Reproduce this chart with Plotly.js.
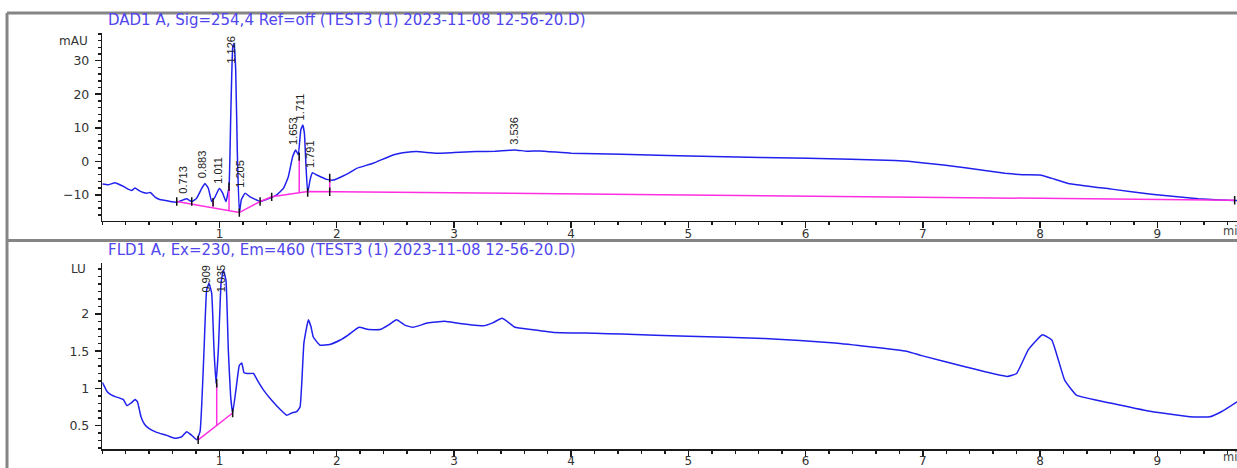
<!DOCTYPE html>
<html>
<head>
<meta charset="utf-8">
<script src="https://cdn.plot.ly/plotly-3.0.1.min.js"></script>
<style>
  html, body { margin: 0; padding: 0; background: #fff; }
  #chart { width: 1237px; height: 468px; }
</style>
</head>
<body>
<div id="chart"></div>
<script>
// ---------- DAD1 A (254 nm) trace ----------
const dadTime = [0.00,0.05,0.11,0.15,0.18,0.22,0.25,0.28,0.31,0.35,0.38,0.41,0.45,0.49,0.53,0.58,0.635,0.69,0.72,0.763,0.805,0.848,0.876,0.905,0.933,0.962,0.998,1.027,1.055,1.081,1.095,1.113,1.124,1.138,1.152,1.169,1.186,1.218,1.26,1.30,1.346,1.43,1.488,1.545,1.587,1.624,1.65,1.672,1.693,1.71,1.724,1.738,1.752,1.772,1.792,1.83,1.915,1.97,2.04,2.11,2.17,2.31,2.48,2.60,2.68,2.85,3.00,3.19,3.35,3.52,3.62,3.73,4.00,4.43,5.21,6.02,6.76,6.99,7.36,7.70,7.85,8.00,8.10,8.24,8.61,8.95,9.35,9.65,9.68];
const dadSignal = [-6.8,-7.0,-6.4,-7.0,-7.5,-8.3,-8.7,-8.0,-8.7,-9.3,-9.5,-9.3,-10.7,-11.4,-11.6,-12.0,-12.2,-11.5,-11.2,-12.0,-11.0,-8.1,-6.6,-8.1,-12.0,-10.6,-8.1,-9.5,-12.0,-7.6,12.3,34.2,35.2,27.2,2.4,-15.5,-11.5,-9.5,-10.6,-11.3,-12.0,-11.0,-10.0,-8.1,-4.6,1.4,3.4,1.9,9.3,10.8,8.4,-1.6,-9.5,-5.6,-3.4,-4.1,-5.4,-5.6,-4.6,-3.4,-2.1,-0.6,1.9,2.7,2.9,2.4,2.6,2.9,3.0,3.4,3.0,3.1,2.4,2.1,1.4,0.9,0.2,-0.4,-1.9,-3.6,-4.0,-4.1,-5.1,-6.6,-8.3,-9.8,-11.2,-11.7,-11.7];

// DAD integration baselines (null separates segments)
const dadBaseTime = [0.635,1.169,1.346,1.445,1.752,9.66,null,1.081,1.081,null,0.945,0.945,null,1.68,1.68,null,1.94,1.94];
const dadBaseValue = [-12.0,-15.3,-12.0,-10.6,-9.0,-11.6,null,-14.5,-7.6,null,-13.5,-11.9,null,-9.3,1.4,null,-9.1,-5.0];

// DAD peak/boundary tick marks
const dadMarkTime = [0.635,0.763,0.945,1.081,1.169,1.346,1.445,1.68,1.752,1.94,1.94,9.66];
const dadMarkValue = [-12.0,-12.0,-12.2,-7.6,-15.3,-12.0,-10.6,1.4,-9.3,-5.0,-9.1,-11.6];

// DAD peak labels
const dadPeakLabels = ["0.713","0.883","1.011","1.126","1.205","1.653","1.711","1.791","3.536"];
const dadPeakTime = [0.713,0.883,1.011,1.126,1.205,1.653,1.711,1.791,3.536];
const dadPeakHeight = [-11.2,-6.6,-8.1,35.2,-9.5,3.4,10.8,-3.4,3.4];

// ---------- FLD1 A (Ex 230 / Em 460) trace ----------
const fldTime = [0.00,0.02,0.04,0.08,0.11,0.15,0.18,0.21,0.25,0.28,0.30,0.33,0.36,0.40,0.464,0.55,0.62,0.677,0.72,0.763,0.805,0.834,0.868,0.89,0.91,0.933,0.953,0.97,0.99,1.013,1.032,1.055,1.075,1.095,1.112,1.14,1.169,1.19,1.209,1.237,1.29,1.33,1.374,1.445,1.516,1.573,1.616,1.659,1.687,1.72,1.758,1.78,1.80,1.857,1.94,2.03,2.10,2.19,2.27,2.37,2.44,2.51,2.58,2.65,2.78,2.92,3.05,3.25,3.33,3.41,3.47,3.52,3.66,3.86,4.20,4.43,5.00,5.65,6.25,6.86,6.99,7.36,7.72,7.80,7.90,8.02,8.10,8.21,8.31,8.61,8.95,9.28,9.45,9.55,9.68];
const fldSignal = [1.08,1.02,0.96,0.91,0.89,0.87,0.85,0.77,0.81,0.85,0.82,0.62,0.52,0.46,0.41,0.37,0.33,0.35,0.42,0.37,0.31,0.42,1.52,2.32,2.41,2.28,1.52,1.07,1.52,2.41,2.59,2.45,1.52,0.89,0.67,0.98,1.31,1.34,1.21,1.20,1.20,1.09,0.98,0.84,0.72,0.64,0.67,0.69,0.75,1.61,1.92,1.83,1.69,1.58,1.59,1.65,1.72,1.82,1.79,1.79,1.85,1.92,1.85,1.82,1.88,1.90,1.87,1.84,1.88,1.94,1.88,1.82,1.79,1.75,1.74,1.73,1.70,1.67,1.61,1.50,1.44,1.29,1.16,1.20,1.52,1.72,1.65,1.11,0.91,0.80,0.69,0.62,0.62,0.69,0.82];

const fldBaseTime = [0.818,1.112,null,0.976,0.976];
const fldBaseValue = [0.31,0.67,null,0.50,1.07];

const fldMarkTime = [0.818,0.976,1.112];
const fldMarkValue = [0.31,1.07,0.67];

const fldPeakLabels = ["0.909","1.035"];
const fldPeakTime = [0.909,1.035];
const fldPeakHeight = [2.41,2.59];

// ---------- axis ticks ----------
const xTickVals = [1,2,3,4,5,6,7,8,9];
const dadTickVals = [-10,0,10,20,30];
const fldTickVals = [0.5,1,1.5,2];
const fldTickText = ["0.5","1","1.5","2"];

const dadTitle = "DAD1 A, Sig=254,4 Ref=off (TEST3 (1) 2023-11-08 12-56-20.D)";
const fldTitle = "FLD1 A, Ex=230, Em=460 (TEST3 (1) 2023-11-08 12-56-20.D)";

// ---------- layout helpers ----------
const W = 1237, H = 468;
const px = v => v / W;
const py = v => 1 - v / H;

const traceColor = '#2121ee';
const baseColor = '#ff2ee0';
const FONT = '"DejaVu Sans", Verdana, sans-serif';
const LABEL_FONT = '"Liberation Sans", Arial, sans-serif';

const dadRange = [-17.66, 38.17];
const fldRange = [0.183, 2.687];
const dadDomain = [py(220.5), py(33.3)];
const fldDomain = [py(449.3), py(262.7)];
const xRange = [0, 9.68];

const lineStyle = {color: traceColor, width: 1.5, shape: 'spline', smoothing: 0.35};

const traces = [
  {x: dadTime, y: dadSignal, xaxis: 'x', yaxis: 'y', mode: 'lines', line: lineStyle, hoverinfo: 'skip'},
  {x: dadBaseTime, y: dadBaseValue, xaxis: 'x', yaxis: 'y', mode: 'lines', line: {color: baseColor, width: 1.5}, connectgaps: false, hoverinfo: 'skip'},
  {x: dadMarkTime, y: dadMarkValue, xaxis: 'x', yaxis: 'y', mode: 'markers', marker: {symbol: 'line-ns', size: 6, line: {color: '#111', width: 1.5}}, hoverinfo: 'skip'},
  {x: fldTime, y: fldSignal, xaxis: 'x2', yaxis: 'y2', mode: 'lines', line: lineStyle, hoverinfo: 'skip'},
  {x: fldBaseTime, y: fldBaseValue, xaxis: 'x2', yaxis: 'y2', mode: 'lines', line: {color: baseColor, width: 1.5}, connectgaps: false, hoverinfo: 'skip'},
  {x: fldMarkTime, y: fldMarkValue, xaxis: 'x2', yaxis: 'y2', mode: 'markers', marker: {symbol: 'line-ns', size: 6, line: {color: '#111', width: 1.5}}, hoverinfo: 'skip'}
];

function peakAnnotations(times, heights, labels, xref, yref, range, pxPerUnit) {
  const labelPx = 28, gapPx = 3;
  return times.map((t, i) => {
    const fits = heights[i] + (labelPx + gapPx) / pxPerUnit <= range[1];
    return {
      x: t, y: fits ? heights[i] : range[1], xref: xref, yref: yref,
      text: labels[i], showarrow: false, textangle: -90,
      xanchor: 'center', yanchor: fits ? 'bottom' : 'top',
      yshift: fits ? gapPx : 0, xshift: -3,
      font: {family: LABEL_FONT, size: 11, color: '#222'}
    };
  });
}

const axisCommon = {
  showgrid: false, zeroline: false, showline: true, linecolor: '#1a1a1a', linewidth: 1.5,
  ticks: 'outside', ticklen: 6, tickwidth: 1.5, tickcolor: '#1a1a1a',
  tickfont: {family: FONT, size: 12.5, color: '#333'}, fixedrange: true
};

const xMinor = {dtick: 0.2, ticks: 'outside', ticklen: 3, tickwidth: 1.5, tickcolor: '#1a1a1a', showgrid: false};

const layout = {
  width: W, height: H,
  margin: {l: 0, r: 0, t: 0, b: 0},
  paper_bgcolor: '#fff', plot_bgcolor: '#fff',
  showlegend: false,
  xaxis: Object.assign({}, axisCommon, {domain: [px(102.3), 1], range: xRange, anchor: 'y', tickmode: 'array', tickvals: xTickVals,
    ticklabelstandoff: -4, tickfont: {family: FONT, size: 12, color: '#333'}, minor: xMinor}),
  yaxis: Object.assign({}, axisCommon, {domain: dadDomain, range: dadRange, anchor: 'x', tickmode: 'array', tickvals: dadTickVals, ticklabelstandoff: 3,
    minor: {dtick: 2, ticks: 'outside', ticklen: 3, tickwidth: 1.5, tickcolor: '#1a1a1a', showgrid: false}}),
  xaxis2: Object.assign({}, axisCommon, {domain: [px(102.3), 1], range: xRange, anchor: 'y2', tickmode: 'array', tickvals: xTickVals,
    ticklabelstandoff: -6, tickfont: {family: FONT, size: 12, color: '#333'}, minor: xMinor}),
  yaxis2: Object.assign({}, axisCommon, {domain: fldDomain, range: fldRange, anchor: 'x2', tickmode: 'array', tickvals: fldTickVals, ticktext: fldTickText, ticklabelstandoff: 3,
    minor: {dtick: 0.1, ticks: 'outside', ticklen: 3, tickwidth: 1.5, tickcolor: '#1a1a1a', showgrid: false}}),
  shapes: [
    {type: 'line', xref: 'paper', yref: 'paper', x0: px(7), x1: 1, y0: py(13), y1: py(13), line: {color: '#858585', width: 3}},
    {type: 'line', xref: 'paper', yref: 'paper', x0: px(7), x1: px(7), y0: py(13), y1: 0, line: {color: '#858585', width: 3}},
    {type: 'line', xref: 'paper', yref: 'paper', x0: px(7), x1: 1, y0: py(240.5), y1: py(240.5), line: {color: '#858585', width: 3}}
  ],
  annotations: [
    {xref: 'paper', yref: 'paper', x: px(106), y: py(20), xanchor: 'left', yanchor: 'middle', showarrow: false, text: dadTitle,
      font: {family: FONT, size: 15, color: '#5046ee'}},
    {xref: 'paper', yref: 'paper', x: px(106), y: py(249.5), xanchor: 'left', yanchor: 'middle', showarrow: false, text: fldTitle,
      font: {family: FONT, size: 15, color: '#5046ee'}},
    {xref: 'paper', yref: 'paper', x: px(90), y: py(41), xanchor: 'right', yanchor: 'middle', showarrow: false, text: 'mAU',
      font: {family: FONT, size: 12, color: '#333'}},
    {xref: 'paper', yref: 'paper', x: px(88), y: py(269), xanchor: 'right', yanchor: 'middle', showarrow: false, text: 'LU',
      font: {family: FONT, size: 12, color: '#333'}},
    {xref: 'paper', yref: 'paper', x: px(1221), y: py(231), xanchor: 'left', yanchor: 'middle', showarrow: false, text: 'min',
      font: {family: FONT, size: 11.5, color: '#444'}},
    {xref: 'paper', yref: 'paper', x: px(1221), y: py(457), xanchor: 'left', yanchor: 'middle', showarrow: false, text: 'min',
      font: {family: FONT, size: 11.5, color: '#444'}}
  ].concat(
    peakAnnotations(dadPeakTime, dadPeakHeight, dadPeakLabels, 'x', 'y', dadRange, 3.353),
    peakAnnotations(fldPeakTime, fldPeakHeight, fldPeakLabels, 'x2', 'y2', fldRange, 74.5)
  )
};

Plotly.newPlot('chart', traces, layout, {displayModeBar: false, staticPlot: true});
</script>
</body>
</html>
